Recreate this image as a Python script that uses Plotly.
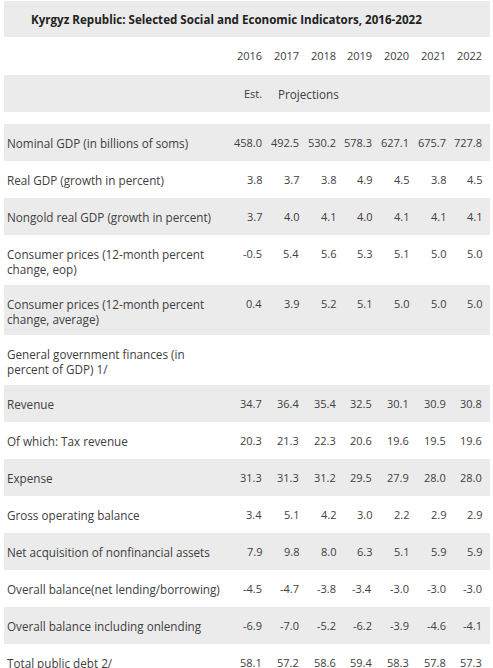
import plotly.graph_objects as go

title = "Kyrgyz Republic: Selected Social and Economic Indicators, 2016-2022"
years = ["2016", "2017", "2018", "2019", "2020", "2021", "2022"]
est_label = "Est."
proj_label = "Projections"

labels = [
    "Nominal GDP (in billions of soms)",
    "Real GDP (growth in percent)",
    "Nongold real GDP (growth in percent)",
    "Consumer prices (12-month percent\nchange, eop)",
    "Consumer prices (12-month percent\nchange, average)",
    "General government finances (in\npercent of GDP) 1/",
    "Revenue",
    "Of which: Tax revenue",
    "Expense",
    "Gross operating balance",
    "Net acquisition of nonfinancial assets",
    "Overall balance(net lending/borrowing)",
    "Overall balance including onlending",
    "Total public debt 2/",
]

nominal_gdp = [458.0, 492.5, 530.2, 578.3, 627.1, 675.7, 727.8]
real_gdp = [3.8, 3.7, 3.8, 4.9, 4.5, 3.8, 4.5]
nongold_gdp = [3.7, 4.0, 4.1, 4.0, 4.1, 4.1, 4.1]
cpi_eop = [-0.5, 5.4, 5.6, 5.3, 5.1, 5.0, 5.0]
cpi_avg = [0.4, 3.9, 5.2, 5.1, 5.0, 5.0, 5.0]
gov_header = None
revenue = [34.7, 36.4, 35.4, 32.5, 30.1, 30.9, 30.8]
tax_revenue = [20.3, 21.3, 22.3, 20.6, 19.6, 19.5, 19.6]
expense = [31.3, 31.3, 31.2, 29.5, 27.9, 28.0, 28.0]
gross_op_balance = [3.4, 5.1, 4.2, 3.0, 2.2, 2.9, 2.9]
net_acq_nfa = [7.9, 9.8, 8.0, 6.3, 5.1, 5.9, 5.9]
overall_balance = [-4.5, -4.7, -3.8, -3.4, -3.0, -3.0, -3.0]
overall_onlending = [-6.9, -7.0, -5.2, -6.2, -3.9, -4.6, -4.1]
public_debt = [58.1, 57.2, 58.6, 59.4, 58.3, 57.8, 57.3]

series = [nominal_gdp, real_gdp, nongold_gdp, cpi_eop, cpi_avg, gov_header,
          revenue, tax_revenue, expense, gross_op_balance, net_acq_nfa,
          overall_balance, overall_onlending, public_debt]

# ---- layout (pixel geometry) ----
W, H = 493, 668
LEFT, RIGHT = 4, 490
GRAY = "#ebebeb"
TXT = "#404040"
FONT = "Open Sans"
FS_LAB = 11.7
FS_NUM = 11
col_right = [263, 300, 337, 373, 410, 447, 483]
ROW1, ROW2 = 37, 50
LINE = 1.3 * FS_LAB  # plotly's own line spacing for <br>

shapes = []
ann = []

def rect(y0, y1):
    shapes.append(dict(type="rect", xref="x", yref="y", x0=LEFT, x1=RIGHT,
                       y0=y0, y1=y1, fillcolor=GRAY, line_width=0, layer="below"))

def text(x, y, s, anchor="left", size=FS_NUM, color=TXT, bold=False):
    ann.append(dict(x=x, y=y, xref="x", yref="y", text=f"<b>{s}</b>" if bold else s,
                    showarrow=False, xanchor=anchor, yanchor="middle", align="left",
                    font=dict(family=FONT, size=size, color=color)))

# title row
rect(1, 37)
text(29, 19, title, size=11.6, color="#222222", bold=True)
# year row
for x, yr in zip(col_right, years):
    text(x + 1, 55.5, yr, anchor="right")
# est/projections row
rect(75, 112)
text(col_right[0] + 1, 93.5, est_label, anchor="right")
text(276, 93.5, proj_label, size=FS_LAB)

y = 124
for i, (lab, vals) in enumerate(zip(labels, series)):
    lines = lab.split("\n")
    h = ROW1 if len(lines) == 1 else ROW2
    if i % 2 == 0:
        rect(y, y + h)
    first = y + 18.5
    text(5, first + (len(lines) - 1) * LINE / 2, "<br>".join(lines), size=FS_LAB)
    if vals is not None:
        for x, v in zip(col_right, vals):
            text(x + 1, first, f"{v:.1f}", anchor="right")
    y += h

fig = go.Figure()
fig.update_layout(
    width=W, height=H, margin=dict(l=0, r=0, t=0, b=0),
    paper_bgcolor="white", plot_bgcolor="white",
    xaxis=dict(range=[0, W], visible=False, fixedrange=True),
    yaxis=dict(range=[H, 0], visible=False, fixedrange=True),
    shapes=shapes, annotations=ann, showlegend=False,
)
fig.write_html("out.html", config={"displayModeBar": False},
               post_script="document.body.style.margin='0';document.body.style.overflow='hidden';")
